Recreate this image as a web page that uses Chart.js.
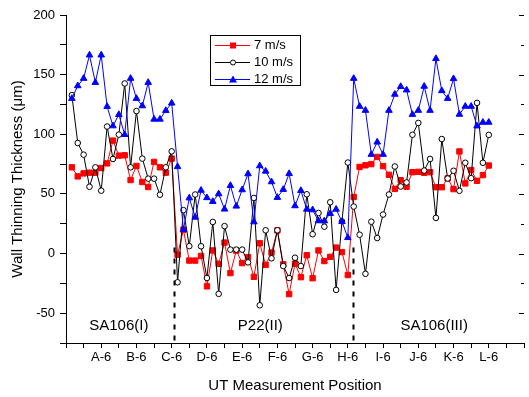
<!DOCTYPE html>
<html>
<head>
<meta charset="utf-8">
<script src="https://cdn.jsdelivr.net/npm/chart.js@4.4.1/dist/chart.umd.min.js"></script>
<style>
  html, body { margin: 0; padding: 0; background: #fff; }
  #wrap { width: 529px; height: 397px; }
</style>
</head>
<body>
<div id="wrap"><canvas id="myChart" width="529" height="397"></canvas></div>
<script>
// measurement positions 1..72 (6 per section letter)
var sectionLetters = ['A', 'B', 'C', 'D', 'E', 'F', 'G', 'H', 'I', 'J', 'K', 'L'];
var positions = [];
for (var p = 1; p <= 72; p++) positions.push(p);

var speed7 = [72.3, 64.7, 67.2, 67.8, 67.8, 71.7, 75.6, 94.7, 82.1, 82.4, 61.6, 73.4,
  60, 55.8, 76.8, 72.3, 67.8, 79.6, -1, 20, -5.9, -5.9, -2, -27.5,
  2.6, -8.6, 9.2, -16.4, 2.5, -8, -3, -19.5, 8.6, -9.5, 0.8, 19.4,
  -9, -34, -8.5, -19.8, -1.4, -20.7, 2.6, -6.3, -2.8, 5, 1.2, -18,
  47.4, 72.6, 74, 75, 81, 73.3, 66, 54.2, 61.5, 56, 68.2, 68.5,
  67.7, 68.2, 55.6, 55.6, 63, 54, 85.6, 58.8, 70, 61, 65.8, 73.8];

var speed10 = [132.8, 92.7, 82.9, 56, 72.3, 52.7, 106.5, 79.3, 99.7, 142.6, 72.3, 119.5,
  79.6, 62.8, 62.8, 49.3, 72.3, 85.7, -24.1, 36.4, 6.2, 49.5, 6.1, -20.5,
  26.5, -33.8, 23, 3.3, 3.3, 3.3, -7.4, 46.6, -43.4, 19.5, -4, 19.5,
  -10.5, -20.5, -3.5, -10.5, 49.7, 16.2, 34, 22.5, 43, -30.5, 27, 76.3,
  39.4, 15.8, -17, 26.7, 13, 32.7, 49.5, 73, 56.2, 59.6, 99.6, 109.5,
  69.6, 79.3, 29.9, 96, 62.9, 69.4, 52.6, 76.1, 63.2, 126.3, 76.1, 99.5];

var speed12 = [130, 140.6, 146.8, 166.4, 143.4, 166.4, 123.3, 107, 116.5, 99.7, 146.8, 130,
  123.8, 143.4, 112.6, 112.6, 119.9, 126.1, 72.8, 20.1, 46.6, 30.4, 53, 46.8,
  43.6, 50, 37.2, 57, 39.7, 53.4, 66.8, 26.5, 73.5, 69, 60.1, 47,
  53.7, 67, 40, 52.8, 37.1, 36.6, 27.4, 27.4, 33.5, 37.1, 26.8, 13.3,
  146.8, 123.4, 120, 83.1, 93.4, 83.1, 120, 133.5, 140, 137.1, 116.6, 120,
  140.2, 120, 163.4, 136.5, 130, 146.6, 116.7, 123.4, 123.4, 106.9, 110, 110];

// section boundaries and names (x in position units)
var boundaries = [18.45, 48.8];
var sectionNames = ['SA106(I)', 'P22(II)', 'SA106(III)'];
var sectionCenters = [9, 33.1, 62.7];

var FONT = '"Liberation Sans", Arial, sans-serif';

function toXY(vals) {
  return vals.map(function (v, i) { return { x: positions[i], y: v }; });
}

var extras = {
  id: 'extras',
  afterDatasetsDraw: function (chart) {
    var ctx = chart.ctx;
    var xs = chart.scales.x, ys = chart.scales.y;
    var area = chart.chartArea;
    ctx.save();

    // dashed section boundaries
    ctx.strokeStyle = '#000';
    ctx.lineWidth = 2;
    ctx.setLineDash([5, 6]);
    boundaries.forEach(function (b) {
      var px = Math.round(xs.getPixelForValue(b)) + 0.5;
      ctx.beginPath();
      ctx.moveTo(px, ys.getPixelForValue(5));
      ctx.lineTo(px, area.bottom);
      ctx.stroke();
    });
    ctx.setLineDash([]);

    // section names
    ctx.fillStyle = '#000';
    ctx.font = '15px ' + FONT;
    ctx.textAlign = 'center';
    ctx.textBaseline = 'middle';
    sectionNames.forEach(function (n, i) {
      ctx.fillText(n, xs.getPixelForValue(sectionCenters[i]), ys.getPixelForValue(-60.5));
    });

    // right-side tick marks
    ctx.lineWidth = 1;
    for (var v = -75; v <= 200; v += 25) {
      var py = Math.round(ys.getPixelForValue(v)) + 0.5;
      var len = (v % 50 === 0) ? 5 : 3;
      ctx.beginPath();
      ctx.moveTo(area.right - len, py);
      ctx.lineTo(area.right, py);
      ctx.stroke();
    }

    // legend box
    var bx = 210.5, by = 35.5, bw = 90, bh = 50;
    ctx.fillStyle = '#fff';
    ctx.fillRect(bx, by, bw, bh);
    ctx.strokeStyle = '#000';
    ctx.strokeRect(bx, by, bw, bh);
    var rows = [45, 62, 79];
    chart.data.datasets.forEach(function (ds, i) {
      var y = rows[i] + 0.5;
      ctx.strokeStyle = ds.borderColor;
      ctx.lineWidth = 1;
      ctx.beginPath();
      ctx.moveTo(215, y);
      ctx.lineTo(250, y);
      ctx.stroke();
      var mx = 233;
      ctx.beginPath();
      if (ds.pointStyle === 'rect') {
        ctx.fillStyle = ds.pointBackgroundColor;
        ctx.fillRect(mx - 3, y - 3, 6, 6);
      } else if (ds.pointStyle === 'circle') {
        ctx.fillStyle = '#fff';
        ctx.arc(mx, y, 2.5, 0, Math.PI * 2);
        ctx.fill();
        ctx.stroke();
      } else {
        ctx.fillStyle = ds.pointBackgroundColor;
        ctx.moveTo(mx, y - 4);
        ctx.lineTo(mx + 4, y + 3);
        ctx.lineTo(mx - 4, y + 3);
        ctx.closePath();
        ctx.fill();
      }
      ctx.fillStyle = '#000';
      ctx.font = '13px ' + FONT;
      ctx.textAlign = 'left';
      ctx.textBaseline = 'middle';
      ctx.fillText(ds.label, 254, y);
    });
    ctx.restore();
  }
};

var ctx = document.getElementById('myChart').getContext('2d');
var myChart = new Chart(ctx, {
  type: 'line',
  data: {
    datasets: [{
      label: '7 m/s',
      data: toXY(speed7),
      borderColor: '#ff0000',
      backgroundColor: '#ff0000',
      pointBackgroundColor: '#ff0000',
      pointBorderColor: '#ff0000',
      pointStyle: 'rect',
      pointRadius: 3.8,
      borderWidth: 1,
      pointBorderWidth: 1,
      order: 3
    }, {
      label: '10 m/s',
      data: toXY(speed10),
      borderColor: '#000000',
      backgroundColor: '#ffffff',
      pointBackgroundColor: '#ffffff',
      pointBorderColor: '#000000',
      pointStyle: 'circle',
      pointRadius: 2.8,
      borderWidth: 1,
      pointBorderWidth: 1,
      order: 2
    }, {
      label: '12 m/s',
      data: toXY(speed12),
      borderColor: '#0000ff',
      backgroundColor: '#0000ff',
      pointBackgroundColor: '#0000ff',
      pointBorderColor: '#0000ff',
      pointStyle: 'triangle',
      pointRadius: 3.8,
      borderWidth: 1,
      pointBorderWidth: 1,
      order: 1
    }]
  },
  options: {
    responsive: false,
    animation: false,
    devicePixelRatio: 1,
    layout: { padding: { top: 15, right: 1, left: 0, bottom: 0 } },
    plugins: {
      legend: { display: false },
      tooltip: { enabled: false }
    },
    elements: { line: { tension: 0 } },
    scales: {
      x: {
        type: 'linear',
        min: 0,
        max: 78,
        afterFit: function (s) { s.height = 54; },
        border: { color: '#000', width: 1 },
        grid: { drawOnChartArea: false, color: '#000', tickLength: 5 },
        ticks: {
          stepSize: 3,
          autoSkip: false,
          maxRotation: 0,
          padding: 2,
          color: '#000',
          font: { family: FONT, size: 13 },
          callback: function (v) {
            if (v > 0 && v < 78 && v % 6 === 0) return sectionLetters[v / 6 - 1] + '-6';
            return '';
          }
        },
        title: {
          display: true,
          text: 'UT Measurement Position',
          color: '#000',
          font: { family: FONT, size: 15 },
          padding: { top: 0, bottom: 2 }
        }
      },
      y: {
        min: -75,
        max: 200,
        afterFit: function (s) { s.width = 66; },
        border: { color: '#000', width: 1 },
        grid: { drawOnChartArea: false, color: '#000', tickLength: 6 },
        ticks: {
          stepSize: 25,
          padding: 5,
          color: '#000',
          font: { family: FONT, size: 13 },
          callback: function (v) { return v % 50 === 0 ? String(v) : ''; }
        },
        title: {
          display: true,
          text: 'Wall Thinning Thickness (\u03bcm)',
          color: '#000',
          font: { family: FONT, size: 15 },
          padding: { top: 9, bottom: 0 }
        }
      }
    }
  },
  plugins: [extras]
});
</script>
</body>
</html>
